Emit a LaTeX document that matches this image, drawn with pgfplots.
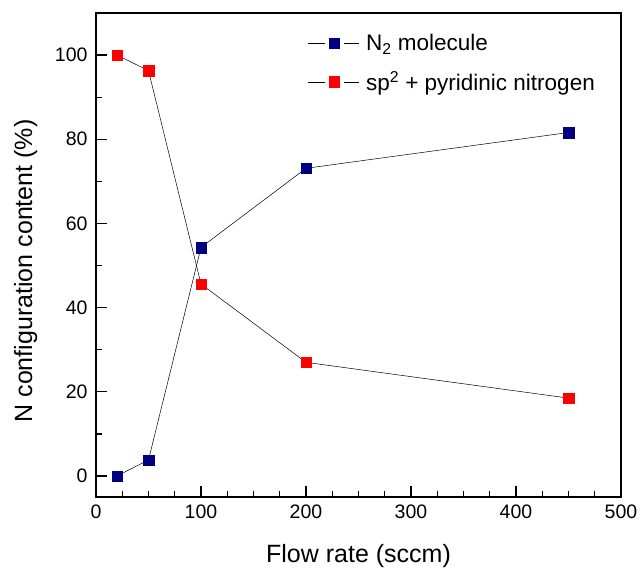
\documentclass[border=0pt]{standalone}
\usepackage{fontspec}
\setmainfont{Liberation Sans}
\usepackage{pgfplots}
\pgfplotsset{compat=1.18}
\definecolor{navyb}{RGB}{0,0,128}
\definecolor{redb}{RGB}{255,0,0}
\begin{document}
\begin{tikzpicture}
\begin{axis}[
  name=ax,
  scale only axis,
  width=525bp, height=484bp,
  xmin=0, xmax=500, ymin=-5, ymax=110,
  xtick={0,100,200,300,400,500},
  ytick={0,20,40,60,80,100},
  minor x tick num=3,
  minor y tick num=1,
  xtick pos=left, ytick pos=left,
  tick align=inside,
  major tick length=11bp,
  minor tick length=6bp,
  axis line style={black, line width=1.6bp},
  every tick/.style={black, line width=1.3bp},
  /pgf/number format/assume math mode=true,
  tick label style={font=\fontsize{19.5bp}{22bp}\selectfont},
  xticklabel style={yshift=-4bp},
  yticklabel style={xshift=-5bp},
  xlabel={Flow rate (sccm)},
  ylabel={N configuration content (\%)},
  label style={font=\fontsize{25bp}{30bp}\selectfont},
  xlabel style={at={(axis description cs:0.5,0)}, anchor=base, yshift=-65bp},
  ylabel style={at={(axis description cs:-0.1219,0.467)}, anchor=base},
  legend style={draw=none, fill=none, at={(0.96,0.965)}, anchor=north east,
    font=\fontsize{22.5bp}{27bp}\selectfont, row sep=16bp},
  legend cell align=left,
  legend image code/.code={
    \draw[#1, mark=none] (0bp,0bp) -- (17bp,0bp);
    \draw[#1, mark=none] (36bp,0bp) -- (51bp,0bp);
    \draw[#1] plot coordinates {(26.5bp,0bp)};
    \path (56bp,0bp);
  },
]
\addplot[black, line width=0.5bp, mark=square*,
  mark options={fill=navyb, draw=navyb, line width=0.3bp, solid}, mark size=5.3bp]
  coordinates {(20,0) (50,3.8) (100,54.3) (200,73.1) (450,81.6)};
\addlegendentry{N\textsubscript{2} molecule}
\addplot[black, line width=0.5bp, mark=square*,
  mark options={fill=redb, draw=redb, line width=0.3bp, solid}, mark size=5.3bp]
  coordinates {(20,100) (50,96.3) (100,45.6) (200,27.0) (450,18.5)};
\addlegendentry{sp\textsuperscript{2} + pyridinic nitrogen}
\end{axis}
\path (ax.south west) ++(-96bp,-72bp) coordinate (bl);
\path (ax.north east) ++(20bp,13bp) coordinate (tr);
\path (bl) rectangle (tr);
\end{tikzpicture}
\end{document}
